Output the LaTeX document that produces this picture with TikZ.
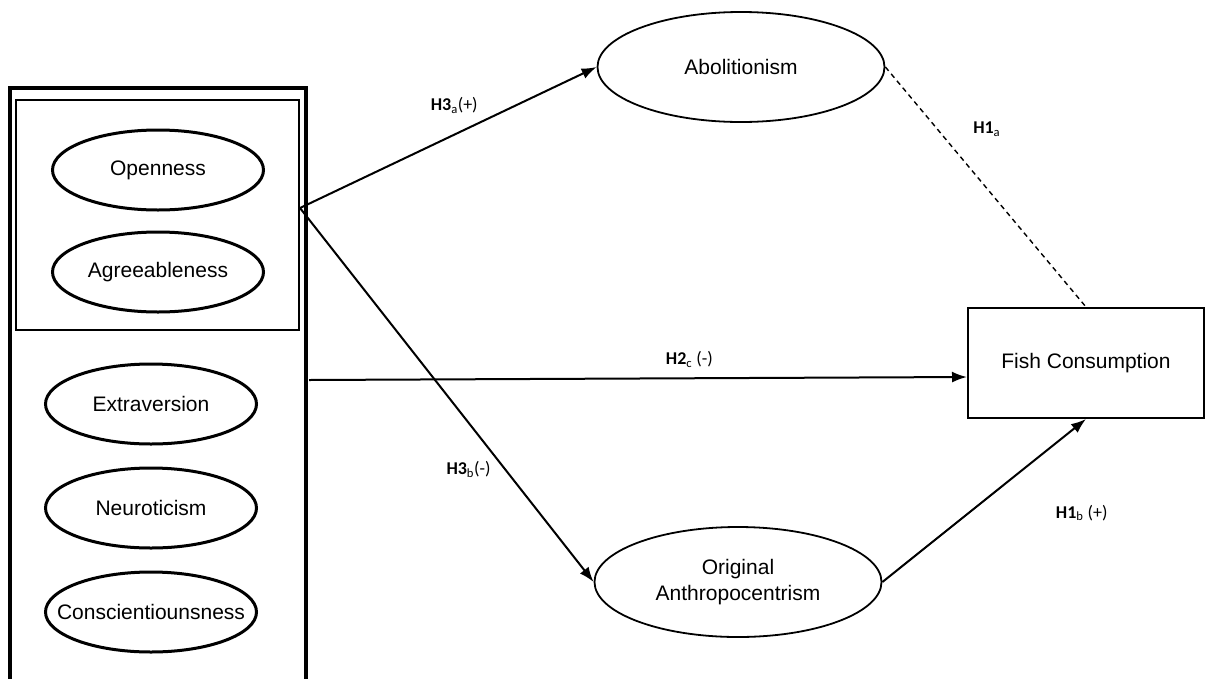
\documentclass[tikz,border=0pt]{standalone}
\usepackage{fontspec}
\setmainfont{Liberation Sans}
\newfontfamily\hypfont{Carlito}
\usepackage{tikz}
\usetikzlibrary{arrows.meta,shapes.geometric,positioning}

\begin{document}
\begin{tikzpicture}[x=1pt, y=-1pt, ->, >={Latex[length=15pt,width=11pt]}, line width=2pt, inner sep=0pt, node distance=102pt]

\useasboundingbox (0,0) rectangle (1215,678);

\tikzstyle{trait}=[ellipse, draw, line width=3pt, inner xsep=-30pt, minimum width=211pt, minimum height=80pt, font=\fontsize{21}{26}\selectfont]
\tikzstyle{view}=[ellipse, draw, line width=1.8pt, minimum width=287pt, minimum height=110pt, align=center, font=\fontsize{21}{26}\selectfont]
\tikzstyle{outcome}=[rectangle, draw, line width=2pt, minimum width=236pt, minimum height=110pt, font=\fontsize{21}{26}\selectfont]
\tikzstyle{hyp}=[font=\hypfont\fontsize{18}{20}\selectfont]

% personality frame
\draw[-, line width=3.5pt] (10,690) -- (10,88) -- (306,88) -- (306,690);
\draw[-, line width=2pt] (16,100) rectangle (299,330);

\node[trait] (open) at (158,170) {Openness};
\node[trait] (agree) [below of=open] {Agreeableness};
\node[trait] (extra) at (151,404) {Extraversion};
\node[trait] (neuro) [node distance=104pt, below of=extra] {Neuroticism};
\node[trait] (consc) [node distance=104pt, below of=neuro] {Conscientiounsness};

\node[view] (abol) at (741,67) {Abolitionism};
\node[view] (orig) at (738,582) {Original\\Anthropocentrism};
\node[outcome] (fish) at (1086,363) {Fish Consumption};

\coordinate (pair) at (300,208);
\coordinate (frame) at (309,380);
\coordinate (fishin) at ([yshift=-14pt]fish.west);

\path
(pair) edge node[hyp, pos=0.52, above=20pt] (h3a) {\textbf{H3}\textsubscript{a}(+)} (abol.west)
(pair) edge node[hyp, pos=0.70, left=14pt] (h3b) {\textbf{H3}\textsubscript{b}(-)} (orig.west)
(frame) edge node[hyp, pos=0.578, above=10pt] (h2c) {\textbf{H2}\textsubscript{c} (-)} (fishin)
(orig.east) edge node[hyp, pos=0.7, below right=36pt and 30pt] (h1b) {\textbf{H1}\textsubscript{b} (+)} (fish.south)
(abol.east) edge[-, line width=1.4pt, dash pattern=on 5pt off 4pt] node[hyp, pos=0.26, right=35pt] (h1a) {\textbf{H1}\textsubscript{a}} (fish.north);

\end{tikzpicture}
\end{document}
